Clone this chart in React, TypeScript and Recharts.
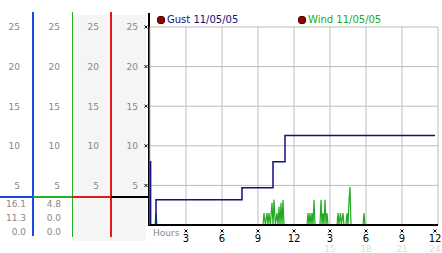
import React from "react";
import {
  CartesianGrid,
  Legend,
  Line,
  LineChart,
  XAxis,
  YAxis,
} from "recharts";

// readings, minutes from start of day
const gustMinutes = [0, 3, 30, 460, 615, 675, 1425];
const gustSpeeds = [8.0, 0.0, 3.2, 4.7, 8.0, 11.3, 11.3];

const windMinutes = [
  0, 25, 30, 35,
  565, 570, 577, 585, 590, 595, 602, 610, 615, 620, 627, 635, 640, 645, 650, 655, 660, 665, 670,
  785, 790, 795, 800, 805, 810, 815, 820, 825,
  850, 855, 860, 865, 870, 875, 880, 885, 890,
  935, 940, 945, 952, 957, 965, 970,
  980, 985, 990, 995, 1000, 1005,
  1065, 1070, 1075, 1440,
];
const windSpeeds = [
  0, 0, 1.5, 0,
  0, 1.5, 0, 1.5, 0, 1.5, 0, 2.8, 0, 3.2, 0, 1.5, 0, 2.3, 0, 2.8, 0, 3.2, 0,
  0, 1.5, 0, 1.5, 0, 1.5, 0, 3.2, 0,
  0, 3.2, 0, 1.5, 0, 3.2, 0, 1.5, 0,
  0, 1.5, 0, 1.5, 0, 1.5, 0,
  0, 1.5, 0, 3.0, 4.8, 0,
  0, 1.5, 0, 0,
];

const hourTicks = [0, 3, 6, 9, 12, 15, 18, 21, 24];
const clockLabels = ["Hours", "3", "6", "9", "12", "3", "6", "9", "12"];
const lateLabels = ["", "", "", "", "", "15", "18", "21", "24"];
const speedTicks = [5, 10, 15, 20, 25];

const gustStats = ["16.1", "11.3", "0.0"];
const windStats = ["4.8", "0.0", "0.0"];

const GUST = "#10107e";
const WIND = "#22aa22";
const FONT = "DejaVu Sans";

const toPoints = (minutes: number[], speeds: number[]) =>
  minutes.map((m, i) => ({ t: m / 60, v: speeds[i] }));

const XMark = ({ cx, cy }: { cx: number; cy: number }) => (
  <path
    d={`M${cx - 1.5},${cy - 1.5}L${cx + 1.5},${cy + 1.5}M${cx + 1.5},${cy - 1.5}L${cx - 1.5},${cy + 1.5}`}
    stroke="#000"
    strokeWidth={1}
  />
);

const YTick = (props: any) => {
  const { x, y, payload, mark } = props;
  return (
    <g>
      <text x={x} y={y + 3.3} textAnchor="end" fill="#888" fontSize={9} fontFamily={FONT}>
        {payload.value}
      </text>
      {mark && <XMark cx={x + 8} cy={y} />}
    </g>
  );
};

const XTick = (props: any) => {
  const { x, y, payload } = props;
  const i = hourTicks.indexOf(payload.value);
  if (i === 0) {
    return (
      <text x={x + 3} y={y + 10.5} fill="#888" fontSize={9} fontFamily={FONT}>
        {clockLabels[0]}
      </text>
    );
  }
  const cx = i === hourTicks.length - 1 ? x - 3 : x;
  return (
    <g>
      <XMark cx={cx} cy={y + 6} />
      <text x={cx} y={y + 16.5} textAnchor="middle" fill="#000" fontSize={10} fontFamily={FONT}>
        {clockLabels[i]}
      </text>
      {lateLabels[i] && (
        <text x={cx} y={y + 26.5} textAnchor="middle" fill="#ddd" fontSize={9} fontFamily={FONT}>
          {lateLabels[i]}
        </text>
      )}
    </g>
  );
};

const legendItems = [
  { name: "Gust 11/05/05", color: GUST, left: 157 },
  { name: "Wind 11/05/05", color: WIND, left: 298 },
];

const renderLegend = () => (
  <div style={{ position: "relative", height: 14, width: 442 }}>
    {legendItems.map((it) => (
      <div
        key={it.name}
        style={{
          position: "absolute",
          left: it.left,
          top: 0,
          height: 14,
          lineHeight: "14px",
          fontFamily: FONT,
          fontSize: 10,
          color: it.color,
          whiteSpace: "nowrap",
          display: "flex",
          alignItems: "center",
        }}
      >
        <span
          style={{
            display: "inline-block",
            width: 6,
            height: 6,
            borderRadius: 3,
            background: "#9a0000",
            border: "1px solid #400",
            marginRight: 2,
          }}
        />
        {it.name}
      </div>
    ))}
  </div>
);

const box = (left: number, top: number, width: number, height: number, bg: string) => (
  <div style={{ position: "absolute", left, top, width, height, background: bg }} />
);

const statText = (right: number, values: string[]) =>
  values.map((s, i) => (
    <div
      key={right + "-" + i}
      style={{
        position: "absolute",
        left: right - 24,
        width: 24,
        top: 198 + i * 14,
        height: 12,
        lineHeight: "12px",
        textAlign: "right",
        fontFamily: FONT,
        fontSize: 9,
        color: "#888",
      }}
    >
      {s}
    </div>
  ));

// four stacked speed scales on the left; "a" sits next to the plot
const panelAxes = [
  { id: "a", width: 39, margin: 12, mark: true },
  { id: "b", width: 39, margin: 12, mark: false },
  { id: "c", width: 39, margin: 12, mark: false },
  { id: "d", width: 33, margin: 13, mark: false },
];

const App = () => {
  const gust = toPoints(gustMinutes, gustSpeeds);
  const wind = toPoints(windMinutes, windSpeeds);
  return (
    <div
      style={{
        position: "fixed",
        left: 0,
        top: 0,
        width: 442,
        height: 253,
        background: "#fff",
        overflow: "hidden",
      }}
    >
      {box(73, 15, 73, 226, "#f5f5f5")}
      {statText(26, gustStats)}
      {statText(61, windStats)}
      {box(32, 12, 2, 224, "#1a4ae0")}
      {box(72, 12, 1, 225, "#22b022")}
      {box(110, 12, 2, 225, "#e01a1a")}
      {box(148, 13, 2, 213, "#000")}
      {box(0, 196, 33, 2, "#1a4ae0")}
      {box(33, 196, 39, 2, "#22b022")}
      {box(72, 196, 39, 2, "#e01a1a")}
      {box(111, 196, 38, 2, "#000")}
      <div style={{ position: "absolute", left: 0, top: 0 }}>
        <LineChart width={442} height={253} margin={{ top: 13, right: 4, bottom: 0, left: 0 }}>
          <CartesianGrid yAxisId="a" stroke="#bdbdbd" />
          <XAxis
            dataKey="t"
            type="number"
            domain={[0, 24]}
            ticks={hourTicks}
            interval={0}
            height={28}
            tickSize={0}
            tickMargin={0}
            tick={<XTick />}
            axisLine={{ stroke: "#000", strokeWidth: 2 }}
          />
          {panelAxes.map((ax) => (
            <YAxis
              key={ax.id}
              yAxisId={ax.id}
              type="number"
              domain={[0, 25]}
              allowDataOverflow
              ticks={speedTicks}
              interval={0}
              width={ax.width}
              tickSize={0}
              tickMargin={ax.margin}
              axisLine={false}
              tickLine={false}
              tick={<YTick mark={ax.mark} />}
            />
          ))}
          <Legend
            verticalAlign="top"
            align="left"
            content={renderLegend}
            wrapperStyle={{ left: 0, top: 13, width: 442 }}
          />
          <Line
            yAxisId="a"
            data={wind}
            dataKey="v"
            type="linear"
            stroke={WIND}
            strokeWidth={1.2}
            dot={false}
            isAnimationActive={false}
          />
          <Line
            yAxisId="a"
            data={gust}
            dataKey="v"
            type="stepAfter"
            stroke={GUST}
            strokeWidth={1.5}
            dot={false}
            isAnimationActive={false}
          />
        </LineChart>
      </div>
    </div>
  );
};

export default App;
